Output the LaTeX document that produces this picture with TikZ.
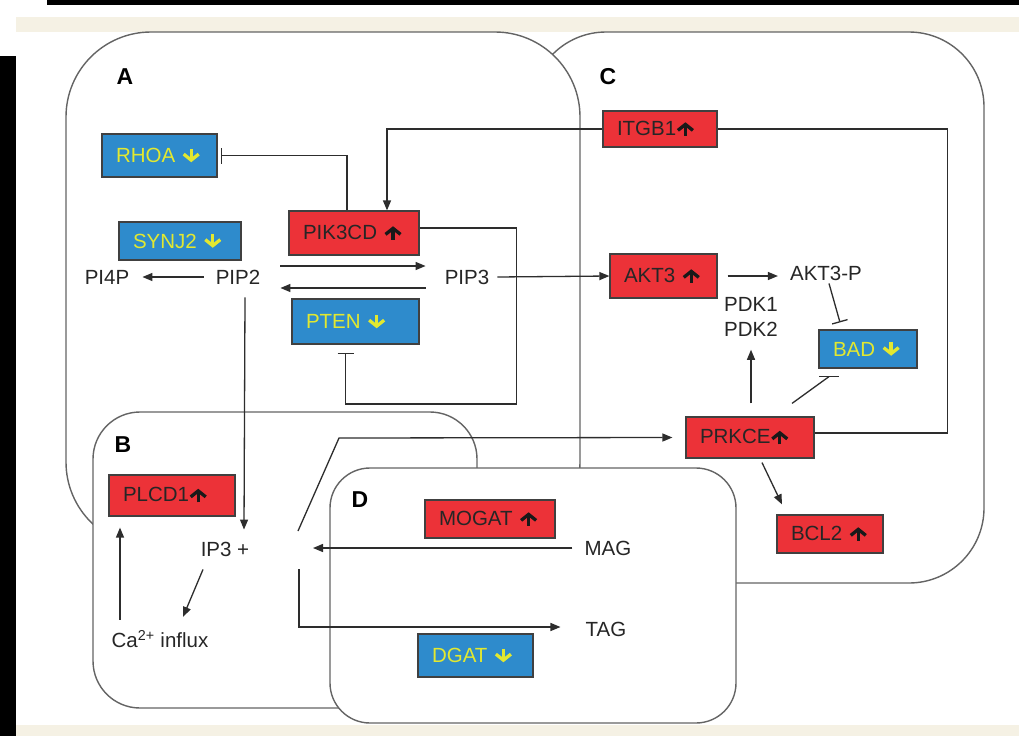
\documentclass[tikz,border=0pt]{standalone}
\usepackage{fontspec}
\setmainfont{Liberation Sans}
\usetikzlibrary{arrows.meta,calc}
\definecolor{boxred}{RGB}{236,50,56}
\definecolor{boxblue}{RGB}{46,139,204}
\definecolor{txtyellow}{RGB}{226,232,48}
\definecolor{bandbeige}{RGB}{245,241,228}
\definecolor{edgegray}{RGB}{100,100,100}
\definecolor{linegray}{RGB}{45,45,45}
\newcommand{\uparr}{\tikz[baseline=0pt,x=1pt,y=1pt]\draw[black!90, line width=3.3pt, -{Straight Barb[length=6pt,width=15pt]}] (0,-0.5) -- (0,13);}
\newcommand{\dnarr}{\tikz[baseline=0pt,x=1pt,y=1pt]\draw[txtyellow, line width=3.3pt, -{Straight Barb[length=6pt,width=15pt]}] (0,14) -- (0,0.5);}
\begin{document}
\begin{tikzpicture}[x=1pt,y=-1pt,
  font=\fontsize{20.5}{25}\selectfont,
  region/.style={draw=edgegray, line width=1.4pt, fill=white},
  gene/.style={draw=black!75, line width=1.2pt, inner xsep=14pt, inner ysep=0pt, align=left},
  upbox/.style={gene, fill=boxred, text=black!85},
  downbox/.style={gene, fill=boxblue, text=txtyellow},
  mol/.style={inner sep=0pt, text=black!85},
  panel/.style={inner sep=0pt, font=\fontsize{23}{26}\selectfont\bfseries},
  arr/.style={draw=linegray, line width=1.3pt, -{Triangle[length=10pt,width=8pt]}},
  inh/.style={draw=linegray, line width=1.3pt, -{Bar[width=16pt]}},
  link/.style={draw=linegray, line width=1.3pt}]
\useasboundingbox (0,0) rectangle (1019,736);
\fill[black] (47,0) rectangle (1019,5);
\fill[bandbeige] (16,17) rectangle (1019,32);
\fill[black] (0,56) rectangle (16,736);
\fill[bandbeige] (16,725) rectangle (1019,736);

\draw[region, rounded corners=75pt] (531,32) rectangle (984,583);
\draw[region, rounded corners=85pt] (66,32) rectangle (580,547);
\draw[region, rounded corners=47pt] (93,412) rectangle (477,708);
\draw[region, rounded corners=40pt] (330,468) rectangle (736,723);

\node[panel] (lblA) at (125,77) {A};
\node[panel] (lblB) at (123,445) {B};
\node[panel] (lblC) at (608,77) {C};
\node[panel] (lblD) at (360,500) {D};

\node[downbox, text width=87pt, minimum height=43pt] (rhoa) at (159.5,155.5) {RHOA \dnarr};
\node[downbox, text width=94pt, minimum height=38pt] (synj2) at (180,241) {SYNJ2 \dnarr};
\node[upbox, text width=102pt, minimum height=44pt] (pik3cd) at (354,233) {PIK3CD \uparr};
\node[downbox, text width=99pt, minimum height=45pt] (pten) at (355.5,321.5) {PTEN \dnarr};
\node[upbox, text width=86pt, minimum height=36pt] (itgb1) at (660,129) {ITGB1\uparr};
\node[upbox, text width=79pt, minimum height=44pt] (akt3) at (663.5,276) {AKT3 \uparr};
\node[downbox, text width=70pt, minimum height=38pt] (bad) at (868,349) {BAD \dnarr};
\node[upbox, text width=100pt, minimum height=41pt] (prkce) at (750,437.5) {PRKCE\uparr};
\node[upbox, text width=98pt, minimum height=41pt] (plcd1) at (172,495.5) {PLCD1\uparr};
\node[upbox, text width=102pt, minimum height=38pt] (mogat) at (490,519) {MOGAT \uparr};
\node[downbox, text width=87pt, minimum height=43pt] (dgat) at (475.5,655.5) {DGAT \dnarr};
\node[upbox, text width=78pt, minimum height=38pt] (bcl2) at (830,534) {BCL2 \uparr};

\node[mol] (pi4p) at (107,277) {PI4P};
\node[mol] (pip2) at (238,277) {PIP2};
\node[mol] (pip3) at (467,277) {PIP3};
\node[mol] (akt3p) at (826,273) {AKT3-P};
\node[mol, align=center] (pdk) at (751,317) {PDK1\\PDK2};
\node[mol] (ip3) at (225,549) {IP3 +};
\node[mol] (ca) at (160,639) {Ca\textsuperscript{2+} influx};
\node[mol] (mag) at (608,548) {MAG};
\node[mol] (tag) at (606,629) {TAG};
\coordinate (jtop) at (298,531);
\coordinate (jmid) at (313,548);
\coordinate (jbot) at (299,569);

\draw[arr] ($(pip2.west)+(-12,0)$) -- ($(pi4p.east)+(13,0)$);
\draw[arr] ($(pip2.east)+(20,-11)$) -- ($(pip3.west)+(-19,-11)$);
\draw[arr] ($(pip3.west)+(-19,11)$) -- ($(pip2.east)+(20,11)$);
\draw[arr] ($(pip3.east)+(8,0)$) -- (akt3.west);
\draw[arr] ($(pip2.south)+(7,13)$) -- ($(ip3.north)+(19,-12)$);
\draw[inh, shorten >=3pt] ($(pik3cd.north)+(-7,0)$) |- (rhoa.east);
\draw[arr] (itgb1.west) -| ($(pik3cd.north)+(33,0)$);
\draw[inh, shorten >=8pt] ($(pik3cd.east)+(0,-5)$) -| ($(pik3cd.east)+(97,171)$) -| ($(pten.south)+(-10,0)$);
\draw[link] (itgb1.east) -| ($(prkce.east)+(133,-4.5)$) -- ($(prkce.east)+(0,-4.5)$);
\draw[arr] ($(akt3.east)+(10,0)$) -- ($(akt3p.west)+(-12,3)$);
\draw[inh] ($(akt3p.south)+(3,3)$) -- ($(bad.north)+(-28,-7)$);
\draw[arr] ($(prkce.north)+(1,-13)$) -- ($(pdk.south)+(0,13)$);
\draw[link] ($(prkce.north)+(42,-13)$) -- ($(bad.south)+(-39,8)$) coordinate (badbar);
\draw[link] ($(badbar)+(-10,0)$) -- ($(badbar)+(10,0)$);
\draw[arr] ($(prkce.south)+(12,4)$) -- ($(bcl2.north)+(-48,-10)$);
\draw[arr] ($(ip3.south)+(-22,13)$) -- ($(ca.north)+(23,-13)$);
\draw[arr] ($(ca.north)+(-40,-10)$) -- ($(plcd1.south)+(-52,11)$);
\draw[arr] (jtop) -- ++(41,-93) -- ($(prkce.west)+(-13,0)$);
\draw[arr] ($(mag.west)+(-12,0)$) -- (jmid);
\draw[arr] (jbot) |- ($(tag.west)+(-25,-2)$);
\end{tikzpicture}
\end{document}
